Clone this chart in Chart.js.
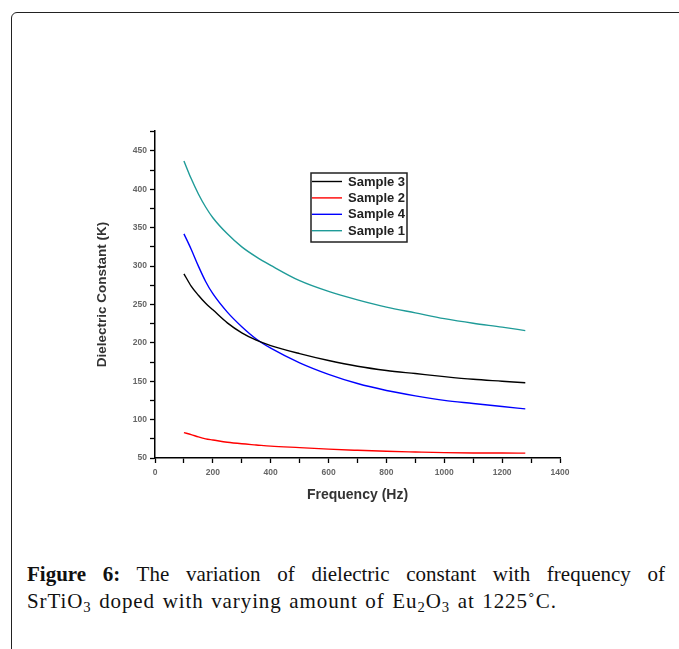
<!DOCTYPE html>
<html>
<head>
<meta charset="utf-8">
<title>Dielectric constant vs frequency</title>
<script src="https://cdn.jsdelivr.net/npm/chart.js@4.4.1/dist/chart.umd.min.js"></script>
<style>
  html, body { margin: 0; padding: 0; background: #fff; }
  body { width: 679px; height: 649px; position: relative; overflow: hidden; }
  .frame {
    position: absolute; left: 11px; top: 12px; width: 720px; height: 700px;
    border: 1px solid #222; border-radius: 6px; box-sizing: border-box;
  }
  .plot { position: absolute; left: 0; top: 0; width: 679px; height: 530px; }
  .caption {
    position: absolute; left: 27px; top: 561px; width: 638px;
    font-family: "Liberation Serif", "DejaVu Serif", serif; font-size: 21px;
    line-height: 27px; color: #111;
  }
  .caption .l1 { text-align: justify; text-align-last: justify; white-space: nowrap; }
  .caption .l2 { letter-spacing: 0.9px; word-spacing: 1.5px; }
  .caption sub { font-size: 0.7em; line-height: 0; vertical-align: -0.25em; }
  .caption b { font-weight: bold; }
</style>
</head>
<body>
<div class="frame"></div>
<div class="plot"><canvas id="dielectricChart"></canvas></div>
<div class="caption">
  <div class="l1"><b>Figure 6:</b> The variation of dielectric constant with frequency of</div>
  <div class="l2">SrTiO<sub>3</sub> doped with varying amount of Eu<sub>2</sub>O<sub>3</sub> at 1225˚C.</div>
</div>
<script>
// ====== Data (Hz vs dielectric constant K) ======
const freqHz  = [100, 125, 150, 175, 200, 250, 300, 350, 400, 500, 600, 700, 800, 900, 1000, 1100, 1200, 1280];
const sample3 = [290, 274, 262, 251.5, 243, 226, 213, 203.5, 196.5, 186, 177, 169.5, 164, 160, 156, 152.5, 150, 148];
const sample2 = [83, 80.5, 77.5, 75, 73.5, 70.5, 68.5, 67, 65.5, 63.5, 61.5, 60, 58.7, 57.8, 57, 56.6, 56.5, 56.3];
const sample4 = [342, 322, 300, 280, 264, 240, 221, 205, 193, 174, 159, 147, 138, 131, 125, 121, 117, 114];
const sample1 = [437, 414, 394, 377, 363, 342, 325, 312, 301, 281, 267, 256, 246.5, 239, 231.5, 225.5, 220.5, 216];

const seriesNames  = ['Sample 3', 'Sample 2', 'Sample 4', 'Sample 1'];
const seriesValues = [sample3, sample2, sample4, sample1];
const seriesColors = ['#000000', '#ff0000', '#0000ff', '#1f9b98'];

const xTickStep = 100;   // labelled every 200
const yTickStep = 25;    // labelled every 50

function points(values) {
  return values.map((v, i) => ({ x: freqHz[i], y: v }));
}

// ====== Legend box drawn inside the plot area ======
const boxLegend = {
  id: 'boxLegend',
  afterDatasetsDraw(chart) {
    const { ctx, chartArea } = chart;
    const x0 = chartArea.left + 156, y0 = chartArea.top + 42;
    const w = 96, h = 69, row = 16.4;
    ctx.save();
    ctx.font = 'bold 13px "Liberation Sans", Arial, sans-serif';
    ctx.textBaseline = 'middle';
    chart.data.datasets.forEach((ds, i) => {
      const y = y0 + 8.5 + i * row;
      ctx.strokeStyle = ds.borderColor;
      ctx.lineWidth = 1.4;
      ctx.beginPath();
      ctx.moveTo(x0 + 1, y);
      ctx.lineTo(x0 + 31, y);
      ctx.stroke();
      ctx.fillStyle = '#222';
      ctx.fillText(ds.label, x0 + 37, y + 0.5);
    });
    ctx.strokeStyle = '#222';
    ctx.lineWidth = 1.5;
    ctx.strokeRect(x0, y0, w, h);
    ctx.restore();
  }
};

// ====== Chart ======
const el = document.getElementById('dielectricChart');
new Chart(el, {
  type: 'line',
  data: {
    datasets: seriesNames.map((name, i) => ({
      label: name,
      data: points(seriesValues[i]),
      borderColor: seriesColors[i],
      borderWidth: 1.4,
      pointRadius: 0,
      fill: false,
      cubicInterpolationMode: 'monotone'
    }))
  },
  options: {
    responsive: true,
    maintainAspectRatio: false,
    animation: false,
    layout: { padding: { left: 60, right: 119, top: 131, bottom: 20 } },
    plugins: {
      legend: { display: false },
      tooltip: { enabled: false }
    },
    scales: {
      x: {
        type: 'linear',
        min: 0,
        max: 1400,
        afterFit: (s) => { s.height = 52; },
        border: { color: '#000', width: 1.5 },
        grid: { drawOnChartArea: false, tickLength: 5, color: '#000', tickWidth: 1.3 },
        ticks: {
          stepSize: xTickStep,
          autoSkip: false,
          maxRotation: 0,
          padding: 5,
          color: '#666',
          font: { size: 8.5, weight: 'bold', family: '"Liberation Sans", Arial, sans-serif' },
          callback: (v) => (v % 200 === 0 ? v : '')
        },
        title: {
          display: true,
          text: 'Frequency (Hz)',
          color: '#333',
          padding: { top: 0, bottom: 6.5 },
          font: { size: 14, weight: 'bold', family: '"Liberation Sans", Arial, sans-serif' }
        }
      },
      y: {
        min: 50,
        max: 476,
        afterFit: (s) => { s.width = 95; },
        border: { color: '#000', width: 1.5 },
        grid: { drawOnChartArea: false, tickLength: 5, color: '#000', tickWidth: 1.3 },
        ticks: {
          stepSize: yTickStep,
          autoSkip: false,
          padding: 3,
          color: '#666',
          font: { size: 8.5, weight: 'bold', family: '"Liberation Sans", Arial, sans-serif' },
          callback: (v) => (v % 50 === 0 ? v : '')
        },
        title: {
          display: true,
          text: 'Dielectric Constant (K)',
          color: '#333',
          padding: { top: 34, bottom: 0 },
          font: { size: 13.5, weight: 'bold', family: '"Liberation Sans", Arial, sans-serif' }
        }
      }
    }
  },
  plugins: [boxLegend]
});
</script>
</body>
</html>
